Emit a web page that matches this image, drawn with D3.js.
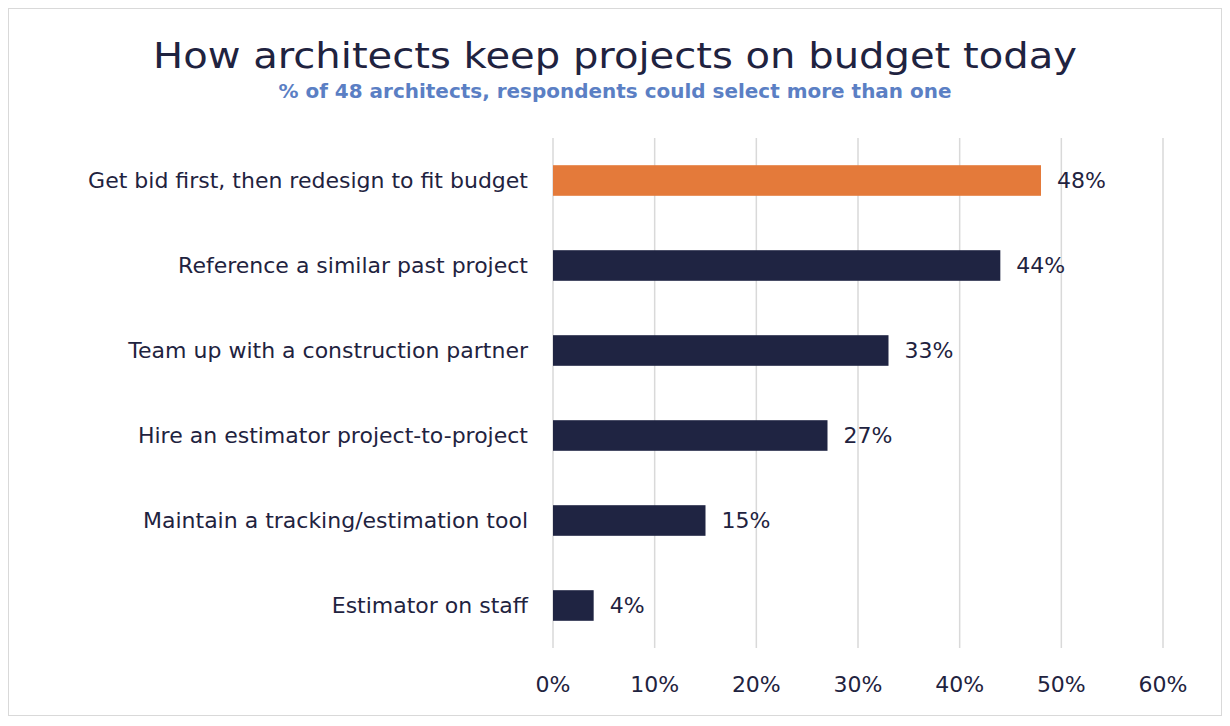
<!DOCTYPE html>
<html><head><meta charset="utf-8">
<script src="https://cdn.jsdelivr.net/npm/d3@7"></script>
<style>body{margin:0;background:#fff}text{font-family:"DejaVu Sans",sans-serif}</style>
</head><body><div class="container"></div>
<script>
var categories = ['Get bid first, then redesign to fit budget','Reference a similar past project','Team up with a construction partner','Hire an estimator project-to-project','Maintain a tracking/estimation tool','Estimator on staff'];
var values = [48,44,33,27,15,4];
var ticks = [0,10,20,30,40,50,60];

var WIDTH = 1230, HEIGHT = 726;
var svg = d3.select('.container').append('svg').attr('width', WIDTH).attr('height', HEIGHT);

svg.append('rect').attr('x',8.5).attr('y',8.5).attr('width',1213).attr('height',707)
	.attr('fill','#fff').attr('stroke','#d9d9d9');

svg.append('text').attr('x',615).attr('y',68).attr('text-anchor','middle')
	.attr('font-size',36).attr('fill','#1f2340')
	.attr('textLength',924).attr('lengthAdjust','spacingAndGlyphs')
	.text('How architects keep projects on budget today');
svg.append('text').attr('x',615).attr('y',98).attr('text-anchor','middle')
	.attr('font-size',19).attr('font-weight','bold').attr('fill','#5b7fc4')
	.attr('textLength',673).attr('lengthAdjust','spacingAndGlyphs')
	.text('% of 48 architects, respondents could select more than one');

var x = d3.scaleLinear().domain([0,60]).range([553,1163]);
var y = d3.scaleBand().domain(categories).range([138,648]).paddingInner(0.64).paddingOuter(0.32);

svg.selectAll('.grid').data(ticks).enter().append('line')
	.attr('x1', function(d){return x(d)}).attr('x2', function(d){return x(d)})
	.attr('y1',138).attr('y2',648).attr('stroke','#d9d9d9').attr('stroke-width',1.5);

svg.selectAll('.tick-label').data(ticks).enter().append('text')
	.attr('x', function(d){return x(d)}).attr('y',692).attr('text-anchor','middle')
	.attr('font-size',22).attr('fill','#1f2340').text(function(d){return d+'%'});

svg.selectAll('.bar').data(values).enter().append('rect')
	.attr('x', x(0)).attr('y', function(d,i){return y(categories[i])})
	.attr('width', function(d){return x(d)-x(0)}).attr('height', y.bandwidth())
	.attr('fill', function(d,i){return i===0 ? '#e47a3a' : '#1f2442'});

svg.selectAll('.cat').data(categories).enter().append('text')
	.attr('x',528).attr('y', function(d){return y(d)+y.bandwidth()/2})
	.attr('dy','0.35em').attr('text-anchor','end').attr('font-size',22).attr('fill','#1f2340')
	.text(function(d){return d});

svg.selectAll('.val').data(values).enter().append('text')
	.attr('x', function(d){return x(d)+16}).attr('y', function(d,i){return y(categories[i])+y.bandwidth()/2})
	.attr('dy','0.35em').attr('font-size',22).attr('fill','#1f2340')
	.text(function(d){return d+'%'});
</script></body></html>
